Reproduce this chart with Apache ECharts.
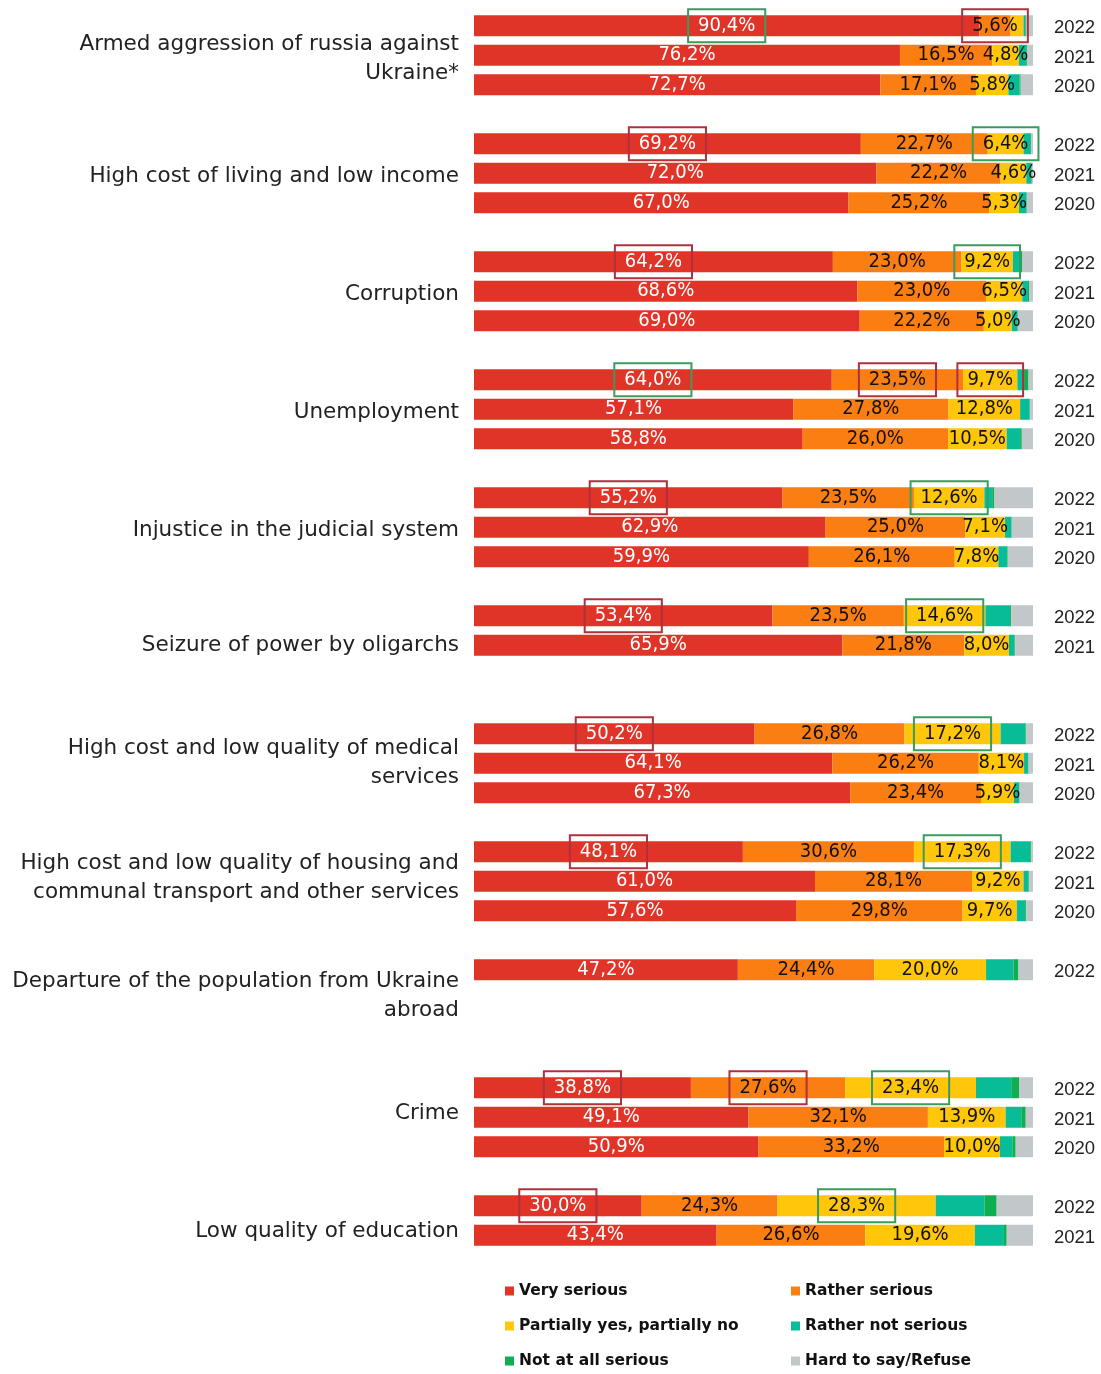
<!DOCTYPE html>
<html>
<head>
<meta charset="utf-8">
<script src="https://cdn.jsdelivr.net/npm/echarts@6/dist/echarts.min.js"></script>
<style>
html, body { margin: 0; padding: 0; background: #fff; }
#chart { width: 1101px; height: 1374px; }
</style>
</head>
<body>
<div id="chart"></div>
<script>
// problems, one group of bars each
var problems = [
    'Armed aggression of russia against\nUkraine*',
    'High cost of living and low income',
    'Corruption',
    'Unemployment',
    'Injustice in the judicial system',
    'Seizure of power by oligarchs',
    'High cost and low quality of medical\nservices',
    'High cost and low quality of housing and\ncommunal transport and other services',
    'Departure of the population from Ukraine\nabroad',
    'Crime',
    'Low quality of education'
];
var years = [
    ['2022', '2021', '2020'], ['2022', '2021', '2020'], ['2022', '2021', '2020'],
    ['2022', '2021', '2020'], ['2022', '2021', '2020'], ['2022', '2021'],
    ['2022', '2021', '2020'], ['2022', '2021', '2020'], ['2022'],
    ['2022', '2021', '2020'], ['2022', '2021']
];
var verySerious = [[90.4, 76.2, 72.7], [69.2, 72.0, 67.0], [64.2, 68.6, 69.0], [64.0, 57.1, 58.8], [55.2, 62.9, 59.9], [53.4, 65.9], [50.2, 64.1, 67.3], [48.1, 61.0, 57.6], [47.2], [38.8, 49.1, 50.9], [30.0, 43.4]];
var ratherSerious = [[5.6, 16.5, 17.1], [22.7, 22.2, 25.2], [23.0, 23.0, 22.2], [23.5, 27.8, 26.0], [23.5, 25.0, 26.1], [23.5, 21.8], [26.8, 26.2, 23.4], [30.6, 28.1, 29.8], [24.4], [27.6, 32.1, 33.2], [24.3, 26.6]];
var partially = [[2.3, 4.8, 5.8], [6.4, 4.6, 5.3], [9.2, 6.5, 5.0], [9.7, 12.8, 10.5], [12.6, 7.1, 7.8], [14.6, 8.0], [17.2, 8.1, 5.9], [17.3, 9.2, 9.7], [20.0], [23.4, 13.9, 10.0], [28.3, 19.6]];
var ratherNot = [[0.4, 1.3, 2.0], [1.2, 0.9, 1.3], [1.4, 1.0, 1.0], [1.2, 1.7, 2.4], [1.4, 1.1, 1.6], [4.4, 1.0], [4.5, 0.7, 0.9], [3.5, 0.9, 1.5], [4.9], [6.3, 2.8, 2.2], [8.7, 5.2]];
var notAtAll = [[0.1, 0.2, 0.2], [0.2, 0.1, 0.1], [0.3, 0.2, 0.1], [0.8, 0.1, 0.3], [0.4, 0.1, 0.1], [0.2, 0.1], [0.1, 0.1, 0.1], [0.2, 0.1, 0.2], [0.9], [1.4, 0.8, 0.6], [2.2, 0.5]];
var hardToSay = [[1.2, 1.0, 2.2], [0.3, 0.2, 1.1], [1.9, 0.7, 2.7], [0.8, 0.5, 2.0], [6.9, 3.8, 4.5], [3.9, 3.2], [1.2, 0.8, 2.4], [0.3, 0.7, 1.2], [2.6], [2.5, 1.3, 3.1], [6.5, 4.7]];

// highlighted labels: [problem, year row, answer]
var greenBoxes = [[0, 0, 0], [1, 0, 2], [2, 0, 2], [3, 0, 0], [4, 0, 2], [5, 0, 2], [6, 0, 2], [7, 0, 2], [9, 0, 2], [10, 0, 2]];
var redBoxes = [[0, 0, 1], [1, 0, 0], [2, 0, 0], [3, 0, 1], [3, 0, 2], [4, 0, 0], [5, 0, 0], [6, 0, 0], [7, 0, 0], [9, 0, 0], [9, 0, 1], [10, 0, 0]];

var answers = ['Very serious', 'Rather serious', 'Partially yes, partially no', 'Rather not serious', 'Not at all serious', 'Hard to say/Refuse'];
var values = [verySerious, ratherSerious, partially, ratherNot, notAtAll, hardToSay];
var colors = ['#df3427', '#fb7e12', '#ffc60a', '#08bc98', '#0fae50', '#c2c7ca'];
// the problem names sit a little higher further down the page
var nameAlign = ['b', 'b', 'b', 'b', 'b', 'm', 'm', 't', 't', 't', 't'];

var rowsPerGroup = 4;
var slotCount = rowsPerGroup * (problems.length - 1) + years[problems.length - 1].length;
var slots = [];
for (var i = 0; i < slotCount; i++) slots.push('s' + i);

function boxColor(g, r, s) {
    for (var i = 0; i < greenBoxes.length; i++) {
        var b = greenBoxes[i];
        if (b[0] == g && b[1] == r && b[2] == s) return '#3a9c5e';
    }
    for (var j = 0; j < redBoxes.length; j++) {
        var c = redBoxes[j];
        if (c[0] == g && c[1] == r && c[2] == s) return '#b0303c';
    }
    return null;
}

function fmt(v) {
    return v.toFixed(1).replace('.', ',') + '%';
}

var labelFont = "'DejaVu Sans Condensed', 'DejaVu Sans'";

var series = answers.map(function (name, s) {
    var data = [];
    for (var k = 0; k < slotCount; k++) data.push('-');
    values[s].forEach(function (rows, g) {
        rows.forEach(function (v, r) {
            var item = {value: v};
            var bc = boxColor(g, r, s);
            if (bc) {
                item.label = {borderColor: bc, borderWidth: 2, padding: [6, 10, 6, 10]};
            }
            data[g * rowsPerGroup + r] = item;
        });
    });
    return {
        name: name,
        type: 'bar',
        stack: 'total',
        barWidth: 21,
        itemStyle: {color: colors[s]},
        emphasis: {disabled: true},
        label: {
            show: s < 3,
            position: 'inside',
            color: s == 0 ? '#ffffff' : '#111111',
            fontFamily: labelFont,
            fontSize: 20,
            lineHeight: 21,
            formatter: function (p) {
                return p.value >= 4 ? fmt(p.value) : '';
            }
        },
        data: data
    };
});

var nameStyle = {fontFamily: 'DejaVu Sans', fontSize: 21.5, lineHeight: 29, align: 'right', color: '#222'};
var legendText = {fontFamily: 'DejaVu Sans', fontWeight: 'bold', fontSize: 15.5, color: '#111', lineHeight: 16};

var option = {
    backgroundColor: '#ffffff',
    animation: false,
    grid: {left: 474, top: 11, width: 559, height: slotCount * 29.5},
    xAxis: {type: 'value', min: 0, max: 100, show: false},
    yAxis: [
        {
            type: 'category',
            inverse: true,
            data: slots,
            axisLine: {show: false},
            axisTick: {show: false},
            axisLabel: {
                interval: 0,
                margin: 15,
                formatter: function (v, idx) {
                    if (idx % rowsPerGroup != 1) return '';
                    var g = Math.floor(idx / rowsPerGroup);
                    return '{' + nameAlign[g] + '|' + problems[g] + '}';
                },
                rich: {
                    b: Object.assign({verticalAlign: 'bottom'}, nameStyle),
                    m: Object.assign({verticalAlign: 'middle'}, nameStyle),
                    t: Object.assign({verticalAlign: 'top'}, nameStyle)
                }
            }
        },
        {
            type: 'category',
            inverse: true,
            position: 'right',
            data: slots,
            axisLine: {show: false},
            axisTick: {show: false},
            axisLabel: {
                interval: 0,
                margin: 21,
                formatter: function (v, idx) {
                    var y = years[Math.floor(idx / rowsPerGroup)][idx % rowsPerGroup];
                    return y ? '{y|' + y + '}' : '';
                },
                rich: {
                    y: {
                        fontFamily: 'Liberation Sans',
                        fontSize: 18.5,
                        lineHeight: 24,
                        verticalAlign: 'bottom',
                        color: '#222'
                    }
                }
            }
        }
    ],
    legend: [
        {
            data: [answers[0], answers[2], answers[4]],
            orient: 'vertical', left: 505, top: 1283, padding: 0,
            itemWidth: 9, itemHeight: 9, itemGap: 19, icon: 'rect',
            selectedMode: false, textStyle: legendText
        },
        {
            data: [answers[1], answers[3], answers[5]],
            orient: 'vertical', left: 791, top: 1283, padding: 0,
            itemWidth: 9, itemHeight: 9, itemGap: 19, icon: 'rect',
            selectedMode: false, textStyle: legendText
        }
    ],
    series: series
};

var myChart = echarts.init(document.getElementById('chart'));
myChart.setOption(option);
</script>
</body>
</html>
